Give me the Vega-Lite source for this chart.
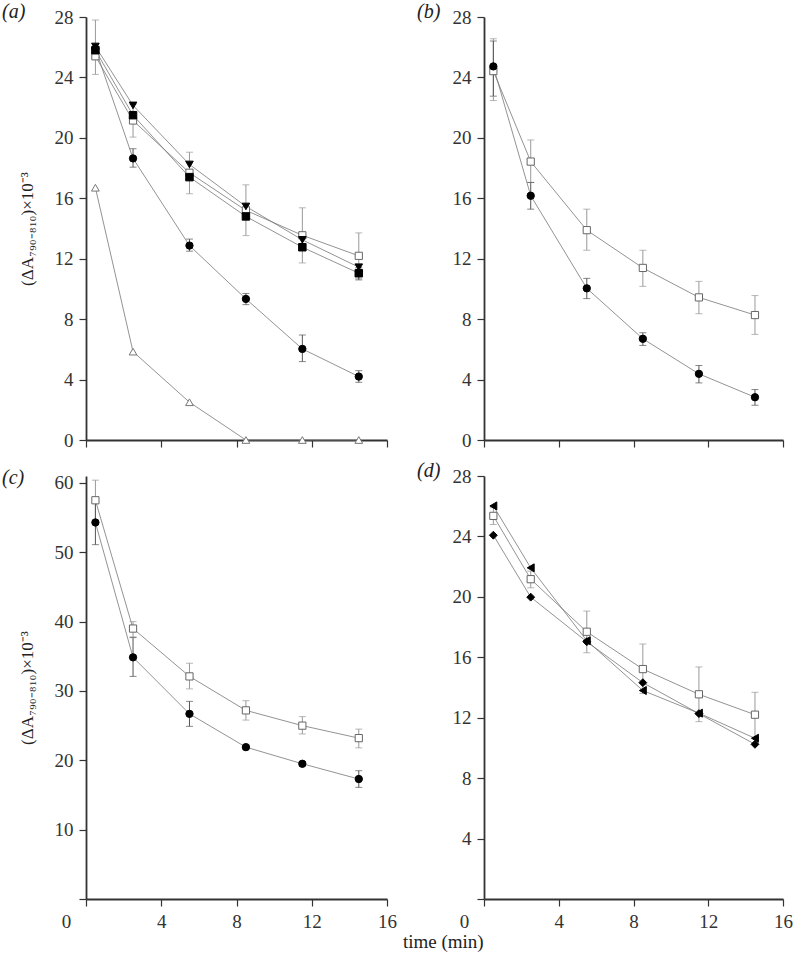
{
  "$schema": "https://vega.github.io/schema/vega-lite/v6.json",
  "padding": {"left": 2, "top": 2, "right": 6, "bottom": 4},
  "background": "white",
  "config": {
    "font": "'Liberation Serif', 'Times New Roman', Times, serif",
    "view": {"stroke": null},
    "axis": {
      "grid": false,
      "domainColor": "#333",
      "domainWidth": 1.8,
      "tickColor": "#333",
      "tickWidth": 1.2,
      "labelFont": "'Liberation Serif', 'Times New Roman', Times, serif",
      "labelFontSize": 19,
      "labelColor": "#333",
      "labelPadding": 6,
      "labelOverlap": false,
      "labelFlush": false,
      "titleFont": "'Liberation Serif', 'Times New Roman', Times, serif",
      "titleFontSize": 17,
      "titleFontWeight": "normal",
      "titleColor": "#222"
    },
    "title": {"font": "'Liberation Serif', 'Times New Roman', Times, serif", "fontWeight": "normal", "color": "#222"}
  },
  "title": {"text": "time (min)", "orient": "bottom", "anchor": "middle", "fontSize": 19, "dx": 46, "offset": 2},
  "datasets": {
    "d": [
      {"panel": "a", "series": "tri_open", "t": 0.5, "v": 16.7},
      {"panel": "a", "series": "tri_open", "t": 2.5, "v": 5.85},
      {"panel": "a", "series": "tri_open", "t": 5.5, "v": 2.5},
      {"panel": "a", "series": "tri_open", "t": 8.5, "v": 0},
      {"panel": "a", "series": "tri_open", "t": 11.5, "v": 0},
      {"panel": "a", "series": "tri_open", "t": 14.5, "v": 0},
      {"panel": "a", "series": "circle", "t": 0.5, "v": 25.9},
      {"panel": "a", "series": "circle", "t": 2.5, "v": 18.64, "lo": 18.06, "hi": 19.28},
      {"panel": "a", "series": "circle", "t": 5.5, "v": 12.87, "lo": 12.5, "hi": 13.3},
      {"panel": "a", "series": "circle", "t": 8.5, "v": 9.34, "lo": 8.96, "hi": 9.7},
      {"panel": "a", "series": "circle", "t": 11.5, "v": 6.03, "lo": 5.19, "hi": 6.95},
      {"panel": "a", "series": "circle", "t": 14.5, "v": 4.2, "lo": 3.82, "hi": 4.59},
      {"panel": "a", "series": "sq_open", "t": 0.5, "v": 25.4, "lo": 24.2, "hi": 27.8},
      {"panel": "a", "series": "sq_open", "t": 2.5, "v": 21.15, "lo": 20.05, "hi": 22.2},
      {"panel": "a", "series": "sq_open", "t": 5.5, "v": 17.69, "lo": 16.3, "hi": 19.05},
      {"panel": "a", "series": "sq_open", "t": 8.5, "v": 15.2, "lo": 13.53, "hi": 16.89},
      {"panel": "a", "series": "sq_open", "t": 11.5, "v": 13.55, "lo": 11.72, "hi": 15.37},
      {"panel": "a", "series": "sq_open", "t": 14.5, "v": 12.19, "lo": 10.7, "hi": 13.71},
      {"panel": "a", "series": "sq_filled", "t": 0.5, "v": 25.8},
      {"panel": "a", "series": "sq_filled", "t": 2.5, "v": 21.5},
      {"panel": "a", "series": "sq_filled", "t": 5.5, "v": 17.4},
      {"panel": "a", "series": "sq_filled", "t": 8.5, "v": 14.8},
      {"panel": "a", "series": "sq_filled", "t": 11.5, "v": 12.76},
      {"panel": "a", "series": "sq_filled", "t": 14.5, "v": 11.04, "lo": 10.6, "hi": 11.4},
      {"panel": "a", "series": "tri_down", "t": 0.5, "v": 26.05},
      {"panel": "a", "series": "tri_down", "t": 2.5, "v": 22.15},
      {"panel": "a", "series": "tri_down", "t": 5.5, "v": 18.24},
      {"panel": "a", "series": "tri_down", "t": 8.5, "v": 15.46},
      {"panel": "a", "series": "tri_down", "t": 11.5, "v": 13.25},
      {"panel": "a", "series": "tri_down", "t": 14.5, "v": 11.44},

      {"panel": "b", "series": "sq_open", "t": 0.5, "v": 24.42, "lo": 22.47, "hi": 26.56},
      {"panel": "b", "series": "sq_open", "t": 2.5, "v": 18.43, "lo": 17.05, "hi": 19.86},
      {"panel": "b", "series": "sq_open", "t": 5.5, "v": 13.89, "lo": 12.56, "hi": 15.28},
      {"panel": "b", "series": "sq_open", "t": 8.5, "v": 11.39, "lo": 10.17, "hi": 12.56},
      {"panel": "b", "series": "sq_open", "t": 11.5, "v": 9.44, "lo": 8.36, "hi": 10.5},
      {"panel": "b", "series": "sq_open", "t": 14.5, "v": 8.27, "lo": 6.99, "hi": 9.56},
      {"panel": "b", "series": "circle", "t": 0.5, "v": 24.73, "lo": 22.76, "hi": 26.41},
      {"panel": "b", "series": "circle", "t": 2.5, "v": 16.17, "lo": 15.28, "hi": 17.05},
      {"panel": "b", "series": "circle", "t": 5.5, "v": 10.04, "lo": 9.36, "hi": 10.7},
      {"panel": "b", "series": "circle", "t": 8.5, "v": 6.7, "lo": 6.26, "hi": 7.1},
      {"panel": "b", "series": "circle", "t": 11.5, "v": 4.38, "lo": 3.78, "hi": 4.93},
      {"panel": "b", "series": "circle", "t": 14.5, "v": 2.83, "lo": 2.3, "hi": 3.34},

      {"panel": "c", "series": "sq_open", "t": 0.5, "v": 57.5, "lo": 54.6, "hi": 60.4},
      {"panel": "c", "series": "sq_open", "t": 2.5, "v": 39.0, "lo": 37.8, "hi": 40.0},
      {"panel": "c", "series": "sq_open", "t": 5.5, "v": 32.1, "lo": 30.3, "hi": 34.0},
      {"panel": "c", "series": "sq_open", "t": 8.5, "v": 27.2, "lo": 25.8, "hi": 28.6},
      {"panel": "c", "series": "sq_open", "t": 11.5, "v": 25.0, "lo": 23.8, "hi": 26.3},
      {"panel": "c", "series": "sq_open", "t": 14.5, "v": 23.2, "lo": 21.8, "hi": 24.5},
      {"panel": "c", "series": "circle", "t": 0.5, "v": 54.3, "lo": 51.1, "hi": 57.5},
      {"panel": "c", "series": "circle", "t": 2.5, "v": 34.85, "lo": 32.1, "hi": 37.7},
      {"panel": "c", "series": "circle", "t": 5.5, "v": 26.7, "lo": 24.9, "hi": 28.5},
      {"panel": "c", "series": "circle", "t": 8.5, "v": 21.9, "lo": 21.6, "hi": 22.2},
      {"panel": "c", "series": "circle", "t": 11.5, "v": 19.5, "lo": 19.2, "hi": 19.8},
      {"panel": "c", "series": "circle", "t": 14.5, "v": 17.3, "lo": 16.1, "hi": 18.5},

      {"panel": "d", "series": "sq_open", "t": 0.5, "v": 25.36, "lo": 24.79, "hi": 25.9},
      {"panel": "d", "series": "sq_open", "t": 2.5, "v": 21.17, "lo": 20.6, "hi": 21.7},
      {"panel": "d", "series": "sq_open", "t": 5.5, "v": 17.69, "lo": 16.3, "hi": 19.06},
      {"panel": "d", "series": "sq_open", "t": 8.5, "v": 15.22, "lo": 13.6, "hi": 16.88},
      {"panel": "d", "series": "sq_open", "t": 11.5, "v": 13.55, "lo": 11.74, "hi": 15.36},
      {"panel": "d", "series": "sq_open", "t": 14.5, "v": 12.2, "lo": 10.7, "hi": 13.68},
      {"panel": "d", "series": "diamond", "t": 0.5, "v": 24.08},
      {"panel": "d", "series": "diamond", "t": 2.5, "v": 19.98},
      {"panel": "d", "series": "diamond", "t": 5.5, "v": 17.03},
      {"panel": "d", "series": "diamond", "t": 8.5, "v": 14.32},
      {"panel": "d", "series": "diamond", "t": 11.5, "v": 12.27},
      {"panel": "d", "series": "diamond", "t": 14.5, "v": 10.24},
      {"panel": "d", "series": "tri_left", "t": 0.5, "v": 26.02},
      {"panel": "d", "series": "tri_left", "t": 2.5, "v": 21.92},
      {"panel": "d", "series": "tri_left", "t": 5.5, "v": 17.1},
      {"panel": "d", "series": "tri_left", "t": 8.5, "v": 13.8},
      {"panel": "d", "series": "tri_left", "t": 11.5, "v": 12.3},
      {"panel": "d", "series": "tri_left", "t": 14.5, "v": 10.64}
    ]
  },
  "columns": 2,
  "spacing": {"row": 11, "column": 20},
  "resolve": {"scale": {"x": "independent", "y": "independent"}},
  "concat": [
    {
      "width": 301, "height": 423,
      "title": {"text": "(a)", "anchor": "start", "frame": "group", "dx": -84, "dy": 14, "offset": 0, "fontStyle": "italic", "fontSize": 20},
      "data": {"name": "d"},
      "transform": [{"filter": "datum.panel === 'a'"}],
      "layer": [
        {
          "mark": {"type": "line", "color": "#777", "strokeWidth": 0.8},
          "encoding": {
            "x": {"field": "t", "type": "quantitative", "scale": {"domain": [0, 16], "nice": false}, "axis": {"title": null, "values": [0,2,4,6,8,10,12,14,16], "labels": false, "tickSize": {"condition": {"test": "datum.value % 4 === 0", "value": 7}, "value": 4}}},
            "y": {"field": "v", "type": "quantitative", "scale": {"domain": [0, 28], "nice": false}, "axis": {"title": "(ΔA₇₉₀₋₈₁₀)×10⁻³", "titlePadding": 18, "values": [0,2,4,6,8,10,12,14,16,18,20,22,24,26,28], "labelExpr": "datum.value % 4 === 0 ? datum.label : ''", "tickSize": {"condition": {"test": "datum.value % 4 === 0", "value": 7}, "value": 4}}},
            "detail": {"field": "series"}
          }
        },
        {
          "transform": [{"filter": "isValid(datum.lo)"}],
          "mark": {"type": "errorbar", "ticks": {"size": 7}, "thickness": 1},
          "encoding": {
            "x": {"field": "t", "type": "quantitative"},
            "y": {"field": "lo", "type": "quantitative", "title": "(ΔA₇₉₀₋₈₁₀)×10⁻³"},
            "y2": {"field": "hi"},
            "color": {"field": "series", "type": "nominal", "legend": null, "scale": {"domain": ["sq_open", "circle", "sq_filled", "tri_down", "tri_open", "diamond", "tri_left"], "range": ["#999999", "#555555", "#444444", "#444444", "#999999", "#444444", "#444444"]}}
          }
        },
        {
          "mark": {"type": "point", "opacity": 1, "strokeWidth": 1},
          "encoding": {
            "x": {"field": "t", "type": "quantitative"},
            "y": {"field": "v", "type": "quantitative"},
            "shape": {"field": "series", "type": "nominal", "legend": null, "scale": {"domain": ["sq_open", "circle", "sq_filled", "tri_down", "tri_open", "diamond", "tri_left"], "range": ["square", "circle", "square", "triangle-down", "triangle-up", "diamond", "triangle-left"]}},
            "fill": {"field": "series", "type": "nominal", "legend": null, "scale": {"domain": ["sq_open", "circle", "sq_filled", "tri_down", "tri_open", "diamond", "tri_left"], "range": ["#ffffff", "#000000", "#000000", "#000000", "#ffffff", "#000000", "#000000"]}},
            "stroke": {"field": "series", "type": "nominal", "legend": null, "scale": {"domain": ["sq_open", "circle", "sq_filled", "tri_down", "tri_open", "diamond", "tri_left"], "range": ["#666666", "#000000", "#000000", "#000000", "#777777", "#000000", "#000000"]}},
            "size": {"field": "series", "type": "nominal", "legend": null, "scale": {"domain": ["sq_open", "circle", "sq_filled", "tri_down", "tri_open", "diamond", "tri_left"], "range": [52, 64, 42, 80, 75, 80, 75]}}
          }
        }
      ]
    },
    {
      "width": 299, "height": 423,
      "title": {"text": "(b)", "anchor": "start", "frame": "group", "dx": -67, "dy": 14, "offset": 0, "fontStyle": "italic", "fontSize": 20},
      "data": {"name": "d"},
      "transform": [{"filter": "datum.panel === 'b'"}],
      "layer": [
        {
          "mark": {"type": "line", "color": "#777", "strokeWidth": 0.8},
          "encoding": {
            "x": {"field": "t", "type": "quantitative", "scale": {"domain": [0, 16], "nice": false}, "axis": {"title": null, "values": [0,2,4,6,8,10,12,14,16], "labels": false, "tickSize": {"condition": {"test": "datum.value % 4 === 0", "value": 7}, "value": 4}}},
            "y": {"field": "v", "type": "quantitative", "scale": {"domain": [0, 28], "nice": false}, "axis": {"title": null, "values": [0,2,4,6,8,10,12,14,16,18,20,22,24,26,28], "labelExpr": "datum.value % 4 === 0 ? datum.label : ''", "tickSize": {"condition": {"test": "datum.value % 4 === 0", "value": 7}, "value": 4}}},
            "detail": {"field": "series"}
          }
        },
        {
          "transform": [{"filter": "isValid(datum.lo)"}],
          "mark": {"type": "errorbar", "ticks": {"size": 7}, "thickness": 1},
          "encoding": {
            "x": {"field": "t", "type": "quantitative"},
            "y": {"field": "lo", "type": "quantitative", "title": null},
            "y2": {"field": "hi"},
            "color": {"field": "series", "type": "nominal", "legend": null, "scale": {"domain": ["sq_open", "circle", "sq_filled", "tri_down", "tri_open", "diamond", "tri_left"], "range": ["#999999", "#555555", "#444444", "#444444", "#999999", "#444444", "#444444"]}}
          }
        },
        {
          "mark": {"type": "point", "opacity": 1, "strokeWidth": 1},
          "encoding": {
            "x": {"field": "t", "type": "quantitative"},
            "y": {"field": "v", "type": "quantitative"},
            "shape": {"field": "series", "type": "nominal", "legend": null, "scale": {"domain": ["sq_open", "circle", "sq_filled", "tri_down", "tri_open", "diamond", "tri_left"], "range": ["square", "circle", "square", "triangle-down", "triangle-up", "diamond", "triangle-left"]}},
            "fill": {"field": "series", "type": "nominal", "legend": null, "scale": {"domain": ["sq_open", "circle", "sq_filled", "tri_down", "tri_open", "diamond", "tri_left"], "range": ["#ffffff", "#000000", "#000000", "#000000", "#ffffff", "#000000", "#000000"]}},
            "stroke": {"field": "series", "type": "nominal", "legend": null, "scale": {"domain": ["sq_open", "circle", "sq_filled", "tri_down", "tri_open", "diamond", "tri_left"], "range": ["#666666", "#000000", "#000000", "#000000", "#777777", "#000000", "#000000"]}},
            "size": {"field": "series", "type": "nominal", "legend": null, "scale": {"domain": ["sq_open", "circle", "sq_filled", "tri_down", "tri_open", "diamond", "tri_left"], "range": [52, 64, 42, 80, 75, 80, 75]}}
          }
        }
      ]
    },
    {
      "width": 301, "height": 423,
      "title": {"text": "(c)", "anchor": "start", "frame": "group", "dx": -84, "dy": 14, "offset": 0, "fontStyle": "italic", "fontSize": 20},
      "data": {"name": "d"},
      "transform": [{"filter": "datum.panel === 'c'"}],
      "layer": [
        {
          "mark": {"type": "line", "color": "#777", "strokeWidth": 0.8},
          "encoding": {
            "x": {"field": "t", "type": "quantitative", "scale": {"domain": [0, 16], "nice": false}, "axis": {"title": null, "values": [0,2,4,6,8,10,12,14,16], "labelExpr": "datum.value % 4 === 0 ? datum.label : ''", "labelOffset": {"condition": {"test": "datum.value === 0", "value": -20}, "value": 0}, "tickSize": {"condition": {"test": "datum.value % 4 === 0", "value": 7}, "value": 4}}},
            "y": {"field": "v", "type": "quantitative", "scale": {"domain": [0, 61], "nice": false}, "axis": {"title": "(ΔA₇₉₀₋₈₁₀)×10⁻³", "titlePadding": 18, "values": [0,5,10,15,20,25,30,35,40,45,50,55,60], "labelExpr": "datum.value % 10 === 0 && datum.value > 0 ? datum.label : ''", "tickSize": {"condition": {"test": "datum.value % 10 === 0", "value": 7}, "value": 4}}},
            "detail": {"field": "series"}
          }
        },
        {
          "transform": [{"filter": "isValid(datum.lo)"}],
          "mark": {"type": "errorbar", "ticks": {"size": 7}, "thickness": 1},
          "encoding": {
            "x": {"field": "t", "type": "quantitative"},
            "y": {"field": "lo", "type": "quantitative", "title": "(ΔA₇₉₀₋₈₁₀)×10⁻³"},
            "y2": {"field": "hi"},
            "color": {"field": "series", "type": "nominal", "legend": null, "scale": {"domain": ["sq_open", "circle", "sq_filled", "tri_down", "tri_open", "diamond", "tri_left"], "range": ["#999999", "#555555", "#444444", "#444444", "#999999", "#444444", "#444444"]}}
          }
        },
        {
          "mark": {"type": "point", "opacity": 1, "strokeWidth": 1},
          "encoding": {
            "x": {"field": "t", "type": "quantitative"},
            "y": {"field": "v", "type": "quantitative"},
            "shape": {"field": "series", "type": "nominal", "legend": null, "scale": {"domain": ["sq_open", "circle", "sq_filled", "tri_down", "tri_open", "diamond", "tri_left"], "range": ["square", "circle", "square", "triangle-down", "triangle-up", "diamond", "triangle-left"]}},
            "fill": {"field": "series", "type": "nominal", "legend": null, "scale": {"domain": ["sq_open", "circle", "sq_filled", "tri_down", "tri_open", "diamond", "tri_left"], "range": ["#ffffff", "#000000", "#000000", "#000000", "#ffffff", "#000000", "#000000"]}},
            "stroke": {"field": "series", "type": "nominal", "legend": null, "scale": {"domain": ["sq_open", "circle", "sq_filled", "tri_down", "tri_open", "diamond", "tri_left"], "range": ["#666666", "#000000", "#000000", "#000000", "#777777", "#000000", "#000000"]}},
            "size": {"field": "series", "type": "nominal", "legend": null, "scale": {"domain": ["sq_open", "circle", "sq_filled", "tri_down", "tri_open", "diamond", "tri_left"], "range": [52, 64, 42, 80, 75, 80, 75]}}
          }
        }
      ]
    },
    {
      "width": 299, "height": 423,
      "title": {"text": "(d)", "anchor": "start", "frame": "group", "dx": -67, "dy": 14, "offset": 0, "fontStyle": "italic", "fontSize": 20},
      "data": {"name": "d"},
      "transform": [{"filter": "datum.panel === 'd'"}],
      "layer": [
        {
          "mark": {"type": "line", "color": "#777", "strokeWidth": 0.8},
          "encoding": {
            "x": {"field": "t", "type": "quantitative", "scale": {"domain": [0, 16], "nice": false}, "axis": {"title": null, "values": [0,2,4,6,8,10,12,14,16], "labelExpr": "datum.value % 4 === 0 ? datum.label : ''", "labelOffset": {"condition": {"test": "datum.value === 0", "value": -20}, "value": 0}, "tickSize": {"condition": {"test": "datum.value % 4 === 0", "value": 7}, "value": 4}}},
            "y": {"field": "v", "type": "quantitative", "scale": {"domain": [0, 28], "nice": false}, "axis": {"title": null, "values": [0,2,4,6,8,10,12,14,16,18,20,22,24,26,28], "labelExpr": "datum.value % 4 === 0 && datum.value > 0 ? datum.label : ''", "tickSize": {"condition": {"test": "datum.value % 4 === 0", "value": 7}, "value": 4}}},
            "detail": {"field": "series"}
          }
        },
        {
          "transform": [{"filter": "isValid(datum.lo)"}],
          "mark": {"type": "errorbar", "ticks": {"size": 7}, "thickness": 1},
          "encoding": {
            "x": {"field": "t", "type": "quantitative"},
            "y": {"field": "lo", "type": "quantitative", "title": null},
            "y2": {"field": "hi"},
            "color": {"field": "series", "type": "nominal", "legend": null, "scale": {"domain": ["sq_open", "circle", "sq_filled", "tri_down", "tri_open", "diamond", "tri_left"], "range": ["#999999", "#555555", "#444444", "#444444", "#999999", "#444444", "#444444"]}}
          }
        },
        {
          "mark": {"type": "point", "opacity": 1, "strokeWidth": 1},
          "encoding": {
            "x": {"field": "t", "type": "quantitative"},
            "y": {"field": "v", "type": "quantitative"},
            "shape": {"field": "series", "type": "nominal", "legend": null, "scale": {"domain": ["sq_open", "circle", "sq_filled", "tri_down", "tri_open", "diamond", "tri_left"], "range": ["square", "circle", "square", "triangle-down", "triangle-up", "diamond", "triangle-left"]}},
            "fill": {"field": "series", "type": "nominal", "legend": null, "scale": {"domain": ["sq_open", "circle", "sq_filled", "tri_down", "tri_open", "diamond", "tri_left"], "range": ["#ffffff", "#000000", "#000000", "#000000", "#ffffff", "#000000", "#000000"]}},
            "stroke": {"field": "series", "type": "nominal", "legend": null, "scale": {"domain": ["sq_open", "circle", "sq_filled", "tri_down", "tri_open", "diamond", "tri_left"], "range": ["#666666", "#000000", "#000000", "#000000", "#777777", "#000000", "#000000"]}},
            "size": {"field": "series", "type": "nominal", "legend": null, "scale": {"domain": ["sq_open", "circle", "sq_filled", "tri_down", "tri_open", "diamond", "tri_left"], "range": [52, 64, 42, 80, 75, 80, 100]}}
          }
        }
      ]
    }
  ]
}
